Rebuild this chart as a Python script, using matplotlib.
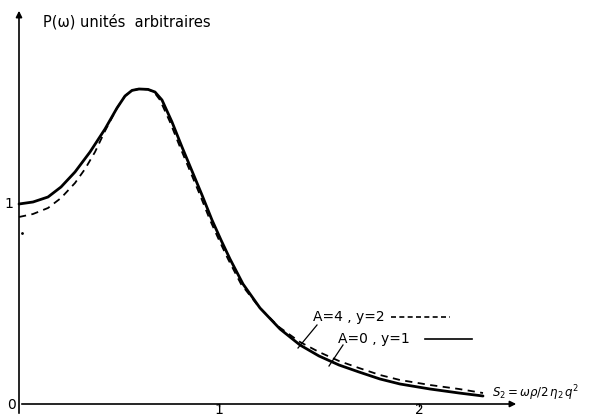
import numpy as np
import matplotlib.pyplot as plt

# curves: S2 (x) vs P(omega) (arbitrary units)
# solid: A=0, y=1
x_solid = [0, 0.07, 0.145, 0.21, 0.28, 0.355, 0.43, 0.49, 0.53, 0.565, 0.6, 0.645, 0.68,
           0.715, 0.765, 0.815, 0.865, 0.915, 0.965, 1.01, 1.055, 1.12, 1.205, 1.305, 1.405,
           1.5, 1.6, 1.7, 1.805, 1.905, 2.055, 2.2, 2.32]
y_solid = [1.0, 1.01, 1.035, 1.085, 1.16, 1.26, 1.375, 1.48, 1.54, 1.568, 1.575, 1.573, 1.56,
           1.52, 1.41, 1.285, 1.165, 1.045, 0.92, 0.82, 0.725, 0.6, 0.48, 0.375, 0.295,
           0.24, 0.195, 0.16, 0.125, 0.1, 0.075, 0.055, 0.04]

# dashed: A=4, y=2
x_dash = [0, 0.07, 0.145, 0.21, 0.28, 0.33, 0.38, 0.43, 0.49, 0.53, 0.565, 0.6, 0.645, 0.675,
          0.705, 0.755, 0.805, 0.855, 0.905, 0.955, 1.0, 1.045, 1.11, 1.2, 1.3, 1.405,
          1.5, 1.6, 1.7, 1.805, 1.905, 2.055, 2.2, 2.32]
y_dash = [0.935, 0.95, 0.98, 1.03, 1.105, 1.175, 1.26, 1.365, 1.48, 1.54, 1.568, 1.575, 1.573, 1.56,
          1.52, 1.41, 1.285, 1.165, 1.045, 0.92, 0.82, 0.725, 0.6, 0.485, 0.385, 0.31,
          0.26, 0.215, 0.18, 0.145, 0.12, 0.095, 0.075, 0.055]

x_ticks = [0, 1, 2]
x_ticklabels = ['0', '1', '2']
y_ticks = [1]
y_ticklabels = ['1']

fig = plt.figure(figsize=(5.89, 4.16), dpi=100)
ax = fig.add_axes([0, 0, 1, 1])
ax.set_xlim(-0.095, 2.85)
ax.set_ylim(-0.06, 2.02)
ax.axis('off')

# axes with arrow heads
ax.annotate('', xy=(2.5, 0), xytext=(0, 0),
            arrowprops=dict(arrowstyle='-|>', lw=1.2, color='black', mutation_scale=9))
ax.annotate('', xy=(0, 1.98), xytext=(0, -0.06),
            arrowprops=dict(arrowstyle='-|>', lw=1.2, color='black', mutation_scale=9))

ax.plot(x_solid, y_solid, color='black', lw=2.0, solid_capstyle='round', solid_joinstyle='round')
ax.plot(x_dash, y_dash, color='black', lw=1.3, dashes=(4, 3))

# tick labels
for xt, lab in zip(x_ticks, x_ticklabels):
    if xt == 0:
        ax.text(-0.035, -0.005, lab, ha='center', va='center', fontsize=10)
    else:
        ax.plot([xt, xt], [0, -0.012], color='black', lw=1)
        ax.text(xt, -0.03, lab, ha='center', va='center', fontsize=10)
for yt, lab in zip(y_ticks, y_ticklabels):
    ax.text(-0.05, yt, lab, ha='center', va='center', fontsize=10)

# small dot near the y-axis
ax.plot([0.015], [0.855], 'k.', ms=2)

ax.text(0.12, 1.91, 'P(ω) unités  arbitraires', ha='left', va='center', fontsize=10.5)
ax.text(2.365, 0.055, r'$S_2 = \omega\rho/2\,\eta_2\,q^2$', ha='left', va='center', fontsize=8.5)

# annotations
ax.text(1.47, 0.435, 'A=4 , y=2', ha='left', va='center', fontsize=10)
ax.plot([1.86, 2.155], [0.435, 0.435], color='black', lw=1.2, dashes=(3, 2))
ax.plot([1.49, 1.395], [0.395, 0.28], color='black', lw=0.9)

ax.text(1.595, 0.325, 'A=0 , y=1', ha='left', va='center', fontsize=10)
ax.plot([2.03, 2.265], [0.325, 0.325], color='black', lw=1.2)
ax.plot([1.62, 1.55], [0.295, 0.19], color='black', lw=0.9)

fig.savefig('out.png', dpi=100)
